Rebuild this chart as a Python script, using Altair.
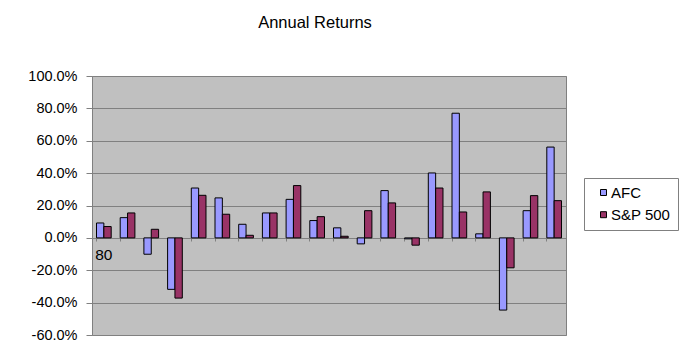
import altair as alt
import pandas as pd

years = ["80", "81", "82", "83", "84", "85", "86", "87", "88", "89",
         "90", "91", "92", "93", "94", "95", "96", "97", "98", "99"]
afc = [9.2, 12.5, -10.1, -31.8, 30.8, 24.7, 8.4, 15.4, 23.8, 10.7,
       6.2, -3.7, 29.2, -0.6, 40.1, 77.0, 2.5, -44.6, 16.8, 56.1]
sp500 = [7.0, 15.4, 5.3, -37.2, 26.3, 14.6, 1.6, 15.4, 32.3, 13.1,
         1.0, 16.8, 21.6, -4.5, 30.8, 16.0, 28.4, -18.5, 26.1, 23.0]
series = ["AFC", "S&P 500"]
colors = ["#9999FF", "#993366"]
y_ticks = [-60, -40, -20, 0, 20, 40, 60, 80, 100]

rows = []
for i, yr in enumerate(years):
    rows.append({"year": yr, "series": series[0], "value": afc[i]})
    rows.append({"year": yr, "series": series[1], "value": sp500[i]})
df = pd.DataFrame(rows)

FONT = "Liberation Sans"

chart = alt.Chart(df).mark_bar(stroke="black", strokeWidth=1).encode(
    x=alt.X("year:N", sort=years,
            scale=alt.Scale(paddingInner=0.38, paddingOuter=0.19),
            axis=alt.Axis(title=None, offset=-97, bandPosition=0,
                          labelExpr="datum.value == '80' ? datum.label : ''",
                          labelAngle=0, labelFontSize=15.5, labelFont=FONT,
                          labelColor="black", labelPadding=6, tickSize=3,
                          tickColor="#808080", domainColor="#808080",
                          grid=False)),
    xOffset=alt.XOffset("series:N", sort=series, scale=alt.Scale(paddingInner=0, paddingOuter=0)),
    y=alt.Y("value:Q",
            scale=alt.Scale(domain=[-60, 100], nice=False, zero=True),
            axis=alt.Axis(title=None, values=y_ticks,
                          labelExpr="replace(format(datum.value, '.1f'), '\u2212', '-') + '%'",
                          labelFontSize=14.5, labelFont=FONT, labelColor="black",
                          labelPadding=9, tickSize=6, tickColor="#808080",
                          domainColor="#808080", gridColor="#808080", gridWidth=1)),
    color=alt.Color("series:N", sort=series,
                    scale=alt.Scale(domain=series, range=colors),
                    legend=alt.Legend(title=None, orient="none", legendX=492, legendY=102,
                                      symbolType="square", symbolSize=36,
                                      symbolStrokeColor="black", symbolStrokeWidth=1,
                                      fillColor="white", strokeColor="#808080",
                                      padding=7, rowPadding=6.2, labelFontSize=15,
                                      labelFont=FONT, labelColor="black",
                                      labelOffset=0, symbolOffset=5,
                                      labelExpr="datum.label + '\u00a0\u00a0\u00a0\u00a0\u00a0\u00a0\u00a0'")),
).properties(
    width=474,
    height=259,
    title=alt.TitleParams("Annual Returns", fontSize=16.5, font=FONT, fontWeight="normal",
                          anchor="middle", dx=-14, offset=37, color="black"),
    autosize=alt.AutoSizeParams(type="none"),
    padding={"left": 84, "top": 68, "right": 121, "bottom": 10},
    background="white",
).configure_view(
    fill="#C0C0C0", stroke="#808080", strokeWidth=1
)

chart.save("out.html", embed_options={"renderer": "svg", "actions": False})
